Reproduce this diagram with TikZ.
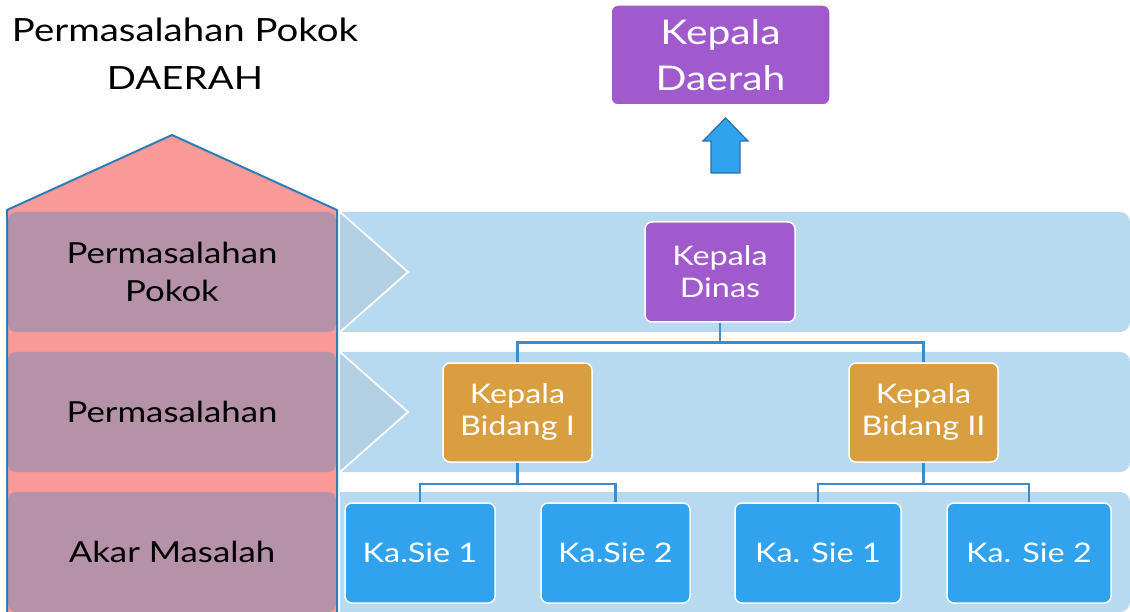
\documentclass[tikz,border=0pt]{standalone}
\usepackage{fontspec}
\setmainfont{Lato}[FakeStretch=1.2]
\definecolor{housepink}{HTML}{FA9A98}
\definecolor{houseline}{HTML}{2E7DB8}
\definecolor{mauve}{HTML}{B592A8}
\definecolor{band}{HTML}{B8DAF0}
\definecolor{chev}{HTML}{B3CFE3}
\definecolor{purp}{HTML}{A05ACE}
\definecolor{orng}{HTML}{D99E40}
\definecolor{sie}{HTML}{31A3EE}
\definecolor{conn}{HTML}{3A8CCB}
\definecolor{arrowline}{HTML}{2A6FA8}
\begin{document}
\begin{tikzpicture}[x=1pt,y=-1pt,
  box/.style={draw=white,line width=1.5pt,rounded corners=7pt,text=white,align=center,inner sep=0pt},
  purpbox/.style={box,fill=purp},
  orbox/.style={box,fill=orng,minimum width=149pt,minimum height=99pt,font=\fontsize{27}{32}\selectfont},
  siebox/.style={box,fill=sie,minimum height=100pt,font=\fontsize{27}{32}\selectfont},
  rowbox/.style={fill=mauve,rounded corners=8pt,minimum width=328pt,minimum height=120pt,align=center,text=black,font=\fontsize{29}{38}\selectfont,inner sep=0pt},
  connline/.style={draw=conn,line width=2.5pt},
]
\useasboundingbox (0,0) rectangle (1130,612);

% title
\node[align=center,font=\fontsize{32}{48}\selectfont] (title) at (185,54) {Permasalahan Pokok\\DAERAH};

% light blue bands
\foreach \t in {212,352,492}{
  \fill[band] (340,\t) -- (1120,\t) to[out=0,in=90] (1130,\t+10) -- (1130,\t+110) to[out=-90,in=0] (1120,\t+120) -- (340,\t+120) -- cycle;
}
% chevrons
\foreach \t in {212,352}{
  \fill[chev] (340,\t) -- (408,\t+60) -- (340,\t+120) -- cycle;
  \draw[white,line width=1.8pt] (340,\t) -- (408,\t+60) -- (340,\t+120);
}

% house
\fill[housepink] (7,612) -- (7,210) -- (172,135) -- (337,210) -- (337,612) -- cycle;
\node[rowbox] (r1) at (172,272) {Permasalahan\\Pokok};
\node[rowbox] (r2) at (172,412) {Permasalahan};
\node[rowbox] (r3) at (172,552) {Akar Masalah};
\draw[houseline,line width=2pt,line join=round] (7,612) -- (7,210) -- (172,135) -- (337,210) -- (337,612);

% top box and arrow
\node[purpbox,minimum width=219pt,minimum height=100pt,font=\fontsize{34}{46}\selectfont] (daerah) at (720.5,55) {Kepala\\Daerah};
\filldraw[fill=sie,draw=arrowline,line width=1.2pt,line join=miter] (725.5,118) -- (748,141) -- (740,141) -- (740,173) -- (711,173) -- (711,141) -- (703,141) -- cycle;

% org chart
\node[purpbox,minimum width=150pt,minimum height=100pt,font=\fontsize{27}{32}\selectfont] (dinas) at (720,272) {Kepala\\Dinas};
\node[orbox] (bid1) at (517.5,412.5) {Kepala\\Bidang I};
\node[orbox] (bid2) at (923.5,412.5) {Kepala\\Bidang II};
\node[siebox,minimum width=150pt] (s1) at (420,553) {Ka.Sie 1};
\node[siebox,minimum width=149pt] (s2) at (615.5,553) {Ka.Sie 2};
\node[siebox,minimum width=166pt] (s3) at (818,553) {Ka. Sie 1};
\node[siebox,minimum width=164pt] (s4) at (1029,553) {Ka. Sie 2};

\draw[connline] (dinas.south) -- ++(0,20) -| (bid1.north);
\draw[connline] (dinas.south) -- ++(0,20) -| (bid2.north);
\draw[connline] (bid1.south) -- ++(0,21) -| (s1.north);
\draw[connline] (bid1.south) -- ++(0,21) -| (s2.north);
\draw[connline] (bid2.south) -- ++(0,21) -| (s3.north);
\draw[connline] (bid2.south) -- ++(0,21) -| (s4.north);
\end{tikzpicture}
\end{document}
